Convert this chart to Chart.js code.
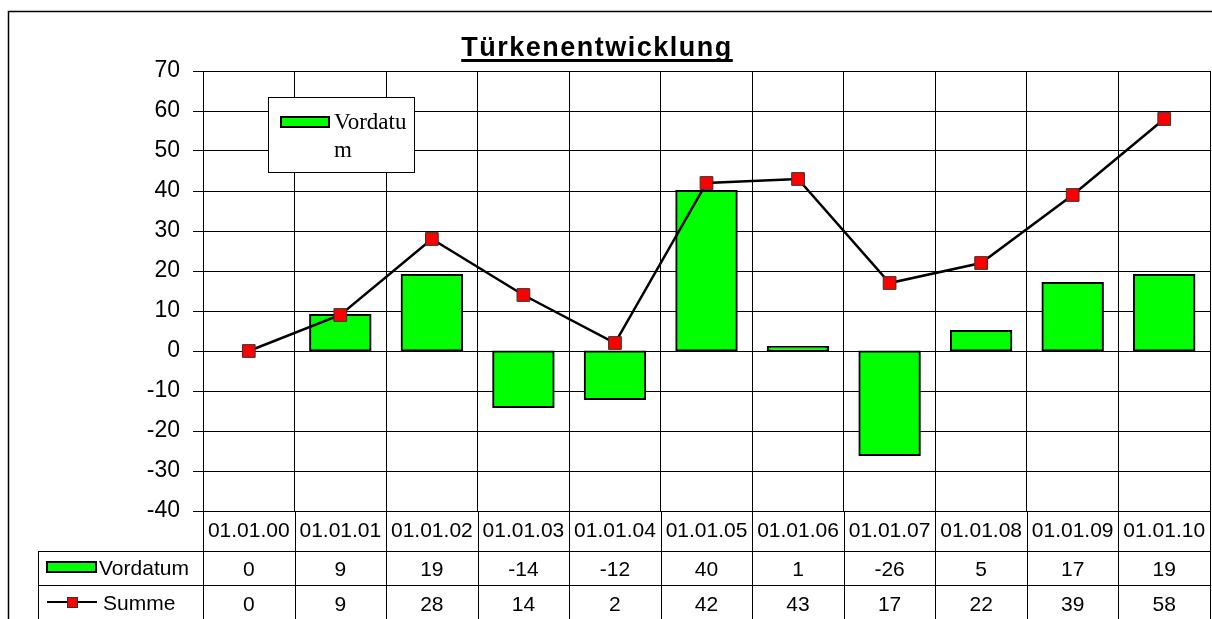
<!DOCTYPE html>
<html>
<head>
<meta charset="utf-8">
<script src="https://cdn.jsdelivr.net/npm/chart.js@4"></script>
<style>
  body { margin: 0; background: #fff; }
  #wrap { width: 1212px; height: 619px; position: relative; }
</style>
</head>
<body>
<div id="wrap"><canvas id="myChart" width="1212" height="619"></canvas></div>
<script>
// chart data
const dates = ['01.01.00','01.01.01','01.01.02','01.01.03','01.01.04','01.01.05','01.01.06','01.01.07','01.01.08','01.01.09','01.01.10'];
const vordatum = [0, 9, 19, -14, -12, 40, 1, -26, 5, 17, 19];
const summe = [0, 9, 28, 14, 2, 42, 43, 17, 22, 39, 58];
const yTicks = [70, 60, 50, 40, 30, 20, 10, 0, -10, -20, -30, -40];
const title = 'Türkenentwicklung';

const green = '#00ff00';
const red = '#ff0000';
const rowH = 34;
const sans = '"Liberation Sans", Arial, sans-serif';

// frame, title, legend box and data table under the axis
const extras = {
  id: 'extras',
  beforeDraw(chart) {
    const c = chart.ctx;
    c.save();
    c.fillStyle = '#fff';
    c.fillRect(0, 0, chart.width, chart.height);
    c.strokeStyle = '#000';
    c.lineWidth = 1.5;
    c.beginPath();
    c.moveTo(8.5, chart.height);
    c.lineTo(8.5, 11.5);
    c.lineTo(chart.width, 11.5);
    c.stroke();
    c.restore();
  },
  afterDraw(chart) {
    const c = chart.ctx;
    const area = chart.chartArea;
    const x = chart.scales.x;
    c.save();

    // title
    c.font = 'bold 27px ' + sans;
    c.letterSpacing = '1.5px';
    c.fillStyle = '#000';
    c.textAlign = 'center';
    c.textBaseline = 'alphabetic';
    const tx = 597;
    c.fillText(title, tx, 56);
    const tw = c.measureText(title).width;
    c.fillRect(tx - tw / 2, 59, tw, 3);
    c.letterSpacing = '0px';

    // legend box inside the plot
    c.fillStyle = '#fff';
    c.fillRect(268, 97, 146, 75);
    c.strokeStyle = '#000';
    c.lineWidth = 1;
    c.strokeRect(268.5, 97.5, 146, 75);
    c.fillStyle = green;
    c.fillRect(281, 117, 48, 10);
    c.lineWidth = 2;
    c.strokeRect(281, 117, 48, 10);
    c.fillStyle = '#000';
    c.font = '23px "Liberation Serif", "Times New Roman", serif';
    c.textAlign = 'left';
    c.textBaseline = 'middle';
    c.fillText('Vordatu', 334, 123);
    c.fillText('m', 334, 151);

    // data table
    const top = area.bottom + 40;
    const n = dates.length;
    const half = (x.getPixelForValue(1) - x.getPixelForValue(0)) / 2;
    c.strokeStyle = '#000';
    c.lineWidth = 1;
    c.beginPath();
    for (let i = 0; i <= n; i++) {
      const px = Math.round((i < n ? x.getPixelForValue(i) - half : x.getPixelForValue(n - 1) + half)) + 0.5;
      c.moveTo(px, area.bottom);
      c.lineTo(px, chart.height);
    }
    c.moveTo(38, top + 0.5);
    c.lineTo(area.right, top + 0.5);
    c.moveTo(38, top + rowH + 0.5);
    c.lineTo(area.right, top + rowH + 0.5);
    c.moveTo(38.5, top);
    c.lineTo(38.5, chart.height);
    c.stroke();

    // row keys
    c.fillStyle = green;
    c.fillRect(47, top + 11, 49, 10);
    c.lineWidth = 2;
    c.strokeRect(47, top + 11, 49, 10);
    c.beginPath();
    c.moveTo(47, top + rowH + 17);
    c.lineTo(97, top + rowH + 17);
    c.stroke();
    c.fillStyle = red;
    c.fillRect(67, top + rowH + 12, 10, 10);
    c.lineWidth = 1;
    c.strokeStyle = '#333';
    c.strokeRect(67.5, top + rowH + 12.5, 10, 10);

    c.fillStyle = '#000';
    c.font = '21px ' + sans;
    c.textAlign = 'left';
    c.fillText('Vordatum', 99, top + 18);
    c.fillText('Summe', 103, top + rowH + 19);

    c.textAlign = 'center';
    for (let i = 0; i < n; i++) {
      const px = x.getPixelForValue(i);
      c.fillText(String(vordatum[i]), px, top + 19);
      c.fillText(String(summe[i]), px, top + rowH + 20);
    }
    c.restore();
  }
};

const ctx = document.getElementById('myChart');
const myChart = new Chart(ctx, {
  data: {
    labels: dates,
    datasets: [{
      type: 'line',
      label: 'Summe',
      data: summe,
      borderColor: '#000',
      borderWidth: 2.5,
      pointStyle: 'rect',
      pointRadius: 9,
      pointBackgroundColor: red,
      pointBorderColor: '#333',
      pointBorderWidth: 1,
      tension: 0,
      order: 0
    }, {
      type: 'bar',
      label: 'Vordatum',
      data: vordatum,
      backgroundColor: green,
      borderColor: '#000',
      borderWidth: 2,
      borderSkipped: false,
      inflateAmount: 1,
      categoryPercentage: 1,
      barPercentage: 0.66,
      order: 1
    }]
  },
  options: {
    responsive: false,
    animation: false,
    layout: { autoPadding: false, padding: { left: 0, right: 2, top: 71, bottom: 0 } },
    plugins: {
      legend: { display: false },
      title: { display: false },
      tooltip: { enabled: false }
    },
    scales: {
      x: {
        offset: true,
        grid: { offset: true, color: '#000', lineWidth: 1, drawTicks: false },
        border: { color: '#000' },
        ticks: {
          color: '#000',
          padding: 8,
          maxRotation: 0,
          autoSkip: false,
          font: { family: sans, size: 21 }
        },
        afterFit(scale) {
          scale.height = 108;
          scale.paddingLeft = 0;
          scale.paddingRight = 0;
        }
      },
      y: {
        min: -40,
        max: 70,
        afterBuildTicks(scale) { scale.ticks = yTicks.map(v => ({ value: v })); },
        grid: { color: '#000', lineWidth: 1, tickLength: 10 },
        border: { color: '#000' },
        ticks: {
          color: '#000',
          padding: 13,
          font: { family: sans, size: 23 }
        },
        afterFit(scale) { scale.width = 203; }
      }
    }
  },
  plugins: [extras]
});
</script>
</body>
</html>
